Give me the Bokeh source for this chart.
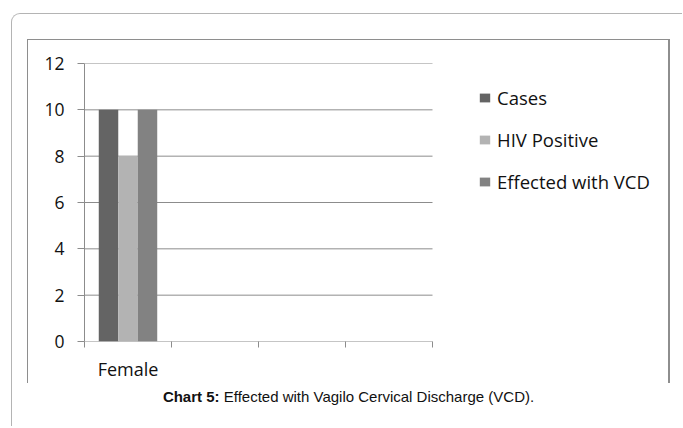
import numpy as np
from bokeh.plotting import figure
from bokeh.layouts import column
from bokeh.models import Range1d, FixedTicker, Legend, LegendItem, Div
from bokeh.embed import file_html
from bokeh.resources import INLINE

# ---------------- data ----------------
categories = ["Female", "", "", ""]
series_names = ["Cases", "HIV Positive", "Effected with VCD"]
cases = [10, np.nan, np.nan, np.nan]
hiv_positive = [8, np.nan, np.nan, np.nan]
effected_vcd = [10, np.nan, np.nan, np.nan]
y_ticks = [0, 2, 4, 6, 8, 10, 12]
caption_bold = "Chart 5:"
caption_text = "Effected with Vagilo Cervical Discharge (VCD)."

# ---------------- style ----------------
colors = ["#646464", "#b3b3b3", "#828282"]
grid_color = "#8c8c8c"
font = "Open Sans"
bar_w = 0.224

# figure canvas sits at page (28, 40)
CX, CY, PW, PH = 28, 40, 640, 343
FL, FT, FB = 84, 63, 342        # frame left / top / bottom (page px)
CAT_PX = 87                      # pixels per category slot
n = len(categories)
x_end = (CX + PW - FL) / CAT_PX  # frame extends to the canvas' right edge

p = figure(width=PW, height=PH, output_backend="svg", toolbar_location=None,
           x_range=Range1d(0, x_end), y_range=Range1d(0, y_ticks[-1]),
           min_border_left=FL - CX, min_border_right=0,
           min_border_top=FT - CY, min_border_bottom=CY + PH - FB)
p.outline_line_color = None
p.background_fill_color = "white"
p.border_fill_color = "white"
p.xgrid.visible = False
p.ygrid.visible = False

# horizontal gridlines across the category slots only (0 is the axis line)
p.segment(x0=[0] * len(y_ticks), x1=[n] * len(y_ticks), y0=y_ticks, y1=y_ticks,
          line_color=grid_color, line_width=1)

series = [cases, hiv_positive, effected_vcd]
renderers = []
for i, vals in enumerate(series):
    xs = [k + 0.5 + (i - 1) * bar_w for k in range(n)]
    r = p.vbar(x=xs, top=vals, bottom=0, width=bar_w,
               fill_color=colors[i], line_color=None)
    renderers.append(r)

# y axis
yt = FixedTicker(ticks=y_ticks, minor_ticks=[])
p.yaxis.ticker = yt
p.yaxis.axis_line_color = grid_color
p.yaxis.major_tick_line_color = grid_color
p.yaxis.major_tick_in = 0
p.yaxis.major_tick_out = 7
p.yaxis.minor_tick_line_color = None
p.yaxis.major_label_text_font = font
p.yaxis.major_label_text_font_size = "17.5px"
p.yaxis.major_label_text_color = "#111111"
p.yaxis.major_label_standoff = 13

# x axis: labels centred in slots, tick marks on slot boundaries
xt = FixedTicker(ticks=[k + 0.5 for k in range(n)], minor_ticks=list(range(n + 1)))
p.xaxis.ticker = xt
p.xaxis.major_label_overrides = {k + 0.5: c for k, c in enumerate(categories)}
p.xaxis.axis_line_color = None
p.xaxis.major_tick_line_color = None
p.xaxis.major_tick_in = 0
p.xaxis.major_tick_out = 6
p.xaxis.minor_tick_line_color = grid_color
p.xaxis.minor_tick_in = 0
p.xaxis.minor_tick_out = 6
p.xaxis.major_label_text_font = font
p.xaxis.major_label_text_font_size = "18px"
p.xaxis.major_label_text_color = "#111111"
p.xaxis.major_label_standoff = 9

# legend (inside the wide frame, right of the slots)
legend = Legend(items=[LegendItem(label=s, renderers=[r]) for s, r in zip(series_names, renderers)],
                location=(478 - FL, FB - 195), orientation="vertical",
                glyph_width=13, glyph_height=11, label_height=22, spacing=17,
                padding=0, margin=0, label_standoff=6,
                border_line_color=None, background_fill_alpha=0,
                label_text_font=font, label_text_font_size="18.5px",
                label_text_color="#111111")
p.add_layout(legend)

inner = column(p, styles={"border-left": "1px solid #8e8e8e",
                          "border-top": "1px solid #8e8e8e",
                          "border-right": "2px solid #8e8e8e"})

caption = Div(text=f"<b>{caption_bold}</b> {caption_text}", width=643, height=40,
              margin=(3, 0, 0, 0),
              styles={"font-family": "'Liberation Sans', Arial, sans-serif",
                      "font-size": "15px", "text-align": "center",
                      "color": "#111111"})

outer = column(inner, caption, margin=(13, 0, 0, 11),
               styles={"border-left": "1px solid #b4b4b4",
                       "border-top": "1px solid #b4b4b4",
                       "border-top-left-radius": "9px",
                       "padding": "25px 12px 0px 15px"})

open("out.html", "w").write(file_html(outer, INLINE))
